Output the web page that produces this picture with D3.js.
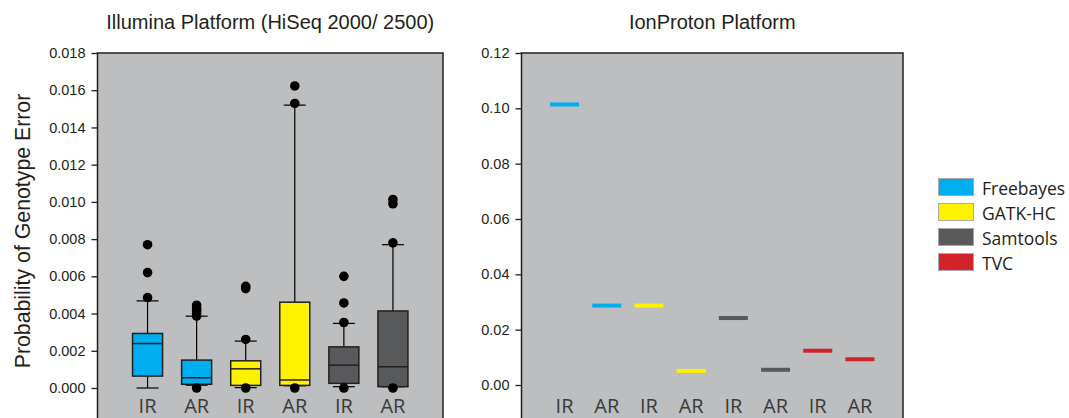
<!DOCTYPE html>
<head>
    <meta charset="utf-8">
    <style>
      body {
          margin: 0;
          background: #fff;
      }
      svg text { font-family: 'Liberation Sans', Arial, sans-serif; fill: #231f20; }
      .title { font-size: 20px; }
      .tick text { font-size: 14.5px; }
      .cat { font-family: 'Open Sans', sans-serif !important; font-size: 20px; fill: #3a3a3a !important; }
      .legend text { font-family: 'Open Sans', sans-serif; font-size: 17.5px; }
      .frame { fill: #bcbec0; stroke: #231f20; stroke-width: 1.5px; }
  </style>
</head>
<body>
<svg id="chart" width="1069" height="418"></svg>
</body>
<script src="https://cdn.jsdelivr.net/npm/d3@7"></script>
<script>
  // callers and colours
  const callers = ["Freebayes", "GATK-HC", "Samtools", "TVC"];
  const callerColors = ["#00aeef", "#fff200", "#58595b", "#d2232a"];

  // Illumina boxes (one per caller x region)
  const ilCaller = ["Freebayes", "Freebayes", "GATK-HC", "GATK-HC", "Samtools", "Samtools"];
  const ilRegion = ["IR", "AR", "IR", "AR", "IR", "AR"];
  const ilQ1     = [0.00064, 0.00020, 0.00014, 0.00014, 0.00025, 0.00007];
  const ilMedian = [0.00239, 0.00055, 0.00103, 0.00043, 0.00123, 0.00114];
  const ilQ3     = [0.00293, 0.00150, 0.00146, 0.00461, 0.00221, 0.00414];
  const ilLow    = [0.00000, 0.00015, 0.00002, 0.00012, 0.00007, 0.00007];
  const ilHigh   = [0.00468, 0.00386, 0.00252, 0.01520, 0.00347, 0.00770];
  const ilOutliers = [
    [0.00486, 0.0062, 0.0077],
    [0.0000, 0.00386, 0.00402, 0.00415, 0.00427, 0.00445],
    [0.0000, 0.00261, 0.00534, 0.00546],
    [0.0000, 0.01529, 0.01623],
    [0.0000, 0.00352, 0.00457, 0.0060],
    [0.0000, 0.0078, 0.0099, 0.01013]
  ];
  const ilTicks = [0, 0.002, 0.004, 0.006, 0.008, 0.010, 0.012, 0.014, 0.016, 0.018];

  // IonProton single values
  const ipCaller = ["Freebayes", "Freebayes", "GATK-HC", "GATK-HC", "Samtools", "Samtools", "TVC", "TVC"];
  const ipRegion = ["IR", "AR", "IR", "AR", "IR", "AR", "IR", "AR"];
  const ipValue  = [0.1014, 0.0287, 0.0287, 0.0051, 0.0242, 0.0055, 0.0124, 0.0093];
  const ipTicks = [0, 0.02, 0.04, 0.06, 0.08, 0.10, 0.12];

  const color = d3.scaleOrdinal().domain(callers).range(callerColors);
  const svg = d3.select("#chart");

  function panel(left, right, top, bottom, yMax, ticks, fmt, n, regions, title) {
    const g = svg.append("g");
    g.append("rect").attr("class", "frame")
      .attr("x", left).attr("y", top)
      .attr("width", right - left).attr("height", 440 - top);
    const y = d3.scaleLinear().domain([0, yMax]).range([bottom, top]);
    const x = d3.scalePoint().domain(d3.range(n)).range([left, right]).padding(1.02);
    g.append("g")
      .attr("transform", "translate(" + left + ",0)")
      .call(d3.axisLeft(y).tickValues(ticks).tickFormat(d3.format(fmt)).tickSize(6).tickPadding(6))
      .call(a => a.select(".domain").remove())
      .call(a => a.selectAll("line").attr("stroke", "#231f20").attr("stroke-width", 1.3));
    g.selectAll("text.cat").data(regions).join("text")
      .attr("class", "cat")
      .attr("x", (d, i) => x(i)).attr("y", 413)
      .attr("text-anchor", "middle").text(d => d);
    g.append("text").attr("class", "title")
      .attr("x", (left + right) / 2).attr("y", 29)
      .attr("text-anchor", "middle").text(title);
    return { g: g, x: x, y: y };
  }

  // Illumina panel
  const il = panel(97.5, 443, 53, 388, 0.018, ilTicks, ".3f", 6, ilRegion,
                   "Illumina Platform (HiSeq 2000/ 2500)");
  const boxW = 30, capW = 22;
  ilCaller.forEach(function(c, i) {
    const cx = il.x(i), y = il.y, g = il.g;
    g.append("line").attr("x1", cx).attr("x2", cx)
      .attr("y1", y(ilHigh[i])).attr("y2", y(ilLow[i]))
      .attr("stroke", "#000").attr("stroke-width", 1.2);
    [ilHigh[i], ilLow[i]].forEach(v => g.append("line")
      .attr("x1", cx - capW / 2).attr("x2", cx + capW / 2)
      .attr("y1", y(v)).attr("y2", y(v))
      .attr("stroke", "#000").attr("stroke-width", 1.2));
    g.append("rect")
      .attr("x", cx - boxW / 2).attr("width", boxW)
      .attr("y", y(ilQ3[i])).attr("height", y(ilQ1[i]) - y(ilQ3[i]))
      .attr("fill", color(c)).attr("stroke", "#231f20").attr("stroke-width", 1.5);
    g.append("line")
      .attr("x1", cx - boxW / 2).attr("x2", cx + boxW / 2)
      .attr("y1", y(ilMedian[i])).attr("y2", y(ilMedian[i]))
      .attr("stroke", "#231f20").attr("stroke-width", 1.5);
    g.selectAll(null).data(ilOutliers[i]).join("circle")
      .attr("cx", cx).attr("cy", d => y(d)).attr("r", 4.8).attr("fill", "#000");
  });
  // y axis label
  svg.append("text")
    .attr("transform", "translate(29.5,231) rotate(-90)")
    .attr("text-anchor", "middle")
    .style("font-size", "21.3px")
    .text("Probability of Genotype Error");

  // IonProton panel
  const ip = panel(521.5, 903, 53, 385, 0.12, ipTicks, ".2f", 8, ipRegion, "IonProton Platform");
  ip.g.selectAll("line.val").data(ipValue).join("line")
    .attr("class", "val")
    .attr("x1", (d, i) => ip.x(i) - 14.5).attr("x2", (d, i) => ip.x(i) + 14.5)
    .attr("y1", d => ip.y(d)).attr("y2", d => ip.y(d))
    .attr("stroke", (d, i) => color(ipCaller[i])).attr("stroke-width", 4);

  // legend
  const lg = svg.append("g").attr("class", "legend");
  callers.forEach(function(c, i) {
    const yy = 178.5 + i * 25;
    lg.append("rect").attr("x", 938.5).attr("y", yy).attr("width", 35).attr("height", 17)
      .attr("fill", color(c)).attr("stroke", "#a7a9ac").attr("stroke-width", 1);
    lg.append("text").attr("x", 982).attr("y", yy + 16).text(c);
  });
</script>
